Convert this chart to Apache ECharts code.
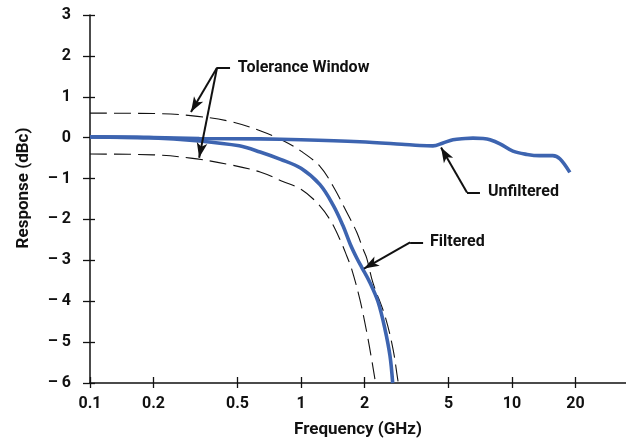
<!DOCTYPE html>
<html>
<head>
<meta charset="utf-8">
<script src="https://cdn.jsdelivr.net/npm/echarts@6/dist/echarts.min.js"></script>
<style>
html,body{margin:0;padding:0;background:#fff;}
#c{width:626px;height:442px;}
</style>
</head>
<body>
<div id="c"></div>
<script>
// ---- data (frequency in GHz, response in dBc) ----
const xTicks = [0.1, 0.2, 0.5, 1, 2, 5, 10, 20];
const xTickLabels = ['0.1', '0.2', '0.5', '1', '2', '5', '10', '20'];
const yTicks = [3, 2, 1, 0, -1, -2, -3, -4, -5, -6];

const unfiltered = [
  [0.1, 0.02], [0.2, 0.0], [0.33, -0.02], [0.64, -0.03], [1.0, -0.05],
  [1.9, -0.1], [3.0, -0.16], [3.66, -0.19], [4.22, -0.2], [4.71, -0.13],
  [5.25, -0.05], [6.0, -0.02], [6.53, -0.01], [7.3, -0.02], [7.87, -0.05],
  [8.77, -0.15], [10.1, -0.33], [11.8, -0.41], [13.5, -0.44], [15.6, -0.44],
  [16.9, -0.52], [18.8, -0.85]
];
const filtered = [
  [0.1, 0.02], [0.19, 0.0], [0.33, -0.08], [0.51, -0.2], [0.64, -0.35],
  [0.8, -0.53], [1.0, -0.75], [1.23, -1.15], [1.42, -1.65], [1.58, -2.15],
  [1.71, -2.6], [1.84, -2.95], [1.94, -3.17], [2.12, -3.54], [2.32, -4.02],
  [2.5, -4.68], [2.64, -5.33], [2.72, -6.0]
];
const toleranceUpper = [
  [0.1, 0.6], [0.2, 0.59], [0.3, 0.54], [0.46, 0.4], [0.64, 0.17],
  [0.82, -0.07], [1.0, -0.33], [1.23, -0.7], [1.42, -1.19], [1.65, -1.83],
  [1.84, -2.32], [1.97, -2.73], [2.05, -2.95], [2.19, -3.54], [2.5, -4.36],
  [2.73, -5.17], [2.88, -5.94], [2.9, -6.0]
];
const toleranceLower = [
  [0.1, -0.4], [0.2, -0.42], [0.3, -0.5], [0.46, -0.66], [0.64, -0.84],
  [0.82, -1.07], [1.0, -1.26], [1.19, -1.59], [1.37, -2.0], [1.53, -2.49],
  [1.65, -2.9], [1.74, -3.22], [1.9, -3.95], [2.05, -4.76], [2.16, -5.41],
  [2.24, -5.9], [2.26, -6.0]
];

// annotation anchors (data coordinates)
const tolVertex = [0.4, 1.71], tolStub = [0.461, 1.71];
const tolArrowA = [0.301, 0.63], tolArrowB = [0.329, -0.49];
const tolText = [0.502, 1.71];
const unfVertex = [6.12, -1.34], unfStub = [7.05, -1.34], unfArrow = [4.61, -0.24], unfText = [7.7, -1.34];
const filVertex = [3.29, -2.56], filStub = [3.79, -2.56], filArrow = [1.99, -3.2], filText = [4.09, -2.56];

const FONT = "Roboto, 'DejaVu Sans Condensed', sans-serif";
const BLUE = '#3d64b0';

const chart = echarts.init(document.getElementById('c'), null, {renderer: 'canvas'});

function yFmt(v) { return v < 0 ? '\u2013 ' + (-v) : String(v); }
function xFmt(v) {
  for (let i = 0; i < xTicks.length; i++) {
    if (Math.abs(v - xTicks[i]) < 1e-6 * xTicks[i]) return xTickLabels[i];
  }
  return '';
}

const labelStyle = {color: '#111', fontFamily: FONT, fontWeight: 'bold', fontSize: 16};

const xBase = {
  type: 'log', logBase: 10, min: 0.1, max: 34.7,
  splitLine: {show: false}, minorTick: {show: false}, minorSplitLine: {show: false}
};
const yBase = {
  type: 'value', min: -6, max: 3, interval: 1,
  splitLine: {show: false}
};

const option = {
  animation: false,
  backgroundColor: '#fff',
  grid: {left: 90, right: 0, top: 15, bottom: 59, containLabel: false, outerBoundsMode: 'none'},
  xAxis: [
    Object.assign({}, xBase, {
      position: 'bottom',
      axisLine: {onZero: false, lineStyle: {color: '#111', width: 1.5}},
      axisTick: {show: true, inside: false, length: 5, customValues: xTicks, lineStyle: {color: '#111', width: 1.3}},
      axisLabel: Object.assign({customValues: xTicks, formatter: xFmt, margin: 13}, labelStyle),
      name: 'Frequency (GHz)', nameLocation: 'middle', nameGap: 38,
      nameTextStyle: Object.assign({}, labelStyle, {fontSize: 17})
    }),
    Object.assign({}, xBase, {
      position: 'bottom',
      axisLine: {show: false, onZero: false},
      axisTick: {show: true, inside: true, length: 6, customValues: xTicks, lineStyle: {color: '#111', width: 1.3}},
      axisLabel: {show: false}
    })
  ],
  yAxis: [
    Object.assign({}, yBase, {
      position: 'left',
      axisLine: {show: true, onZero: false, lineStyle: {color: '#111', width: 1.5}},
      axisTick: {show: true, inside: false, length: 7, lineStyle: {color: '#111', width: 1.3}},
      axisLabel: Object.assign({formatter: yFmt, margin: 19}, labelStyle),
      name: 'Response (dBc)', nameLocation: 'middle', nameGap: 58,
      nameTextStyle: Object.assign({}, labelStyle, {fontSize: 17, padding: [0, 0, 0, 22]})
    }),
    Object.assign({}, yBase, {
      position: 'left',
      axisLine: {show: false, onZero: false},
      axisTick: {show: true, inside: true, length: 5, lineStyle: {color: '#111', width: 1.3}},
      axisLabel: {show: false}
    })
  ],
  series: [
    {
      name: 'Tolerance upper', type: 'line', data: toleranceUpper, smooth: 0.35,
      showSymbol: false, silent: true, clip: true,
      lineStyle: {color: '#111', width: 1.1, type: [17, 7]}
    },
    {
      name: 'Tolerance lower', type: 'line', data: toleranceLower, smooth: 0.35,
      showSymbol: false, silent: true, clip: true,
      lineStyle: {color: '#111', width: 1.1, type: [17, 7]}
    },
    {
      name: 'Unfiltered', type: 'line', data: unfiltered, smooth: 0.35,
      showSymbol: false, silent: true, clip: true,
      lineStyle: {color: BLUE, width: 3.6}
    },
    {
      name: 'Filtered', type: 'line', data: filtered, smooth: 0.35,
      showSymbol: false, silent: true, clip: true,
      lineStyle: {color: BLUE, width: 3.6}
    },
    {
      name: 'annotations', type: 'line', data: [], silent: true,
      markLine: {
        silent: true, animation: false,
        symbol: ['none', 'arrow'], symbolSize: [8, 15],
        label: {show: false},
        lineStyle: {color: '#111', width: 2, type: 'solid'},
        emphasis: {disabled: true},
        data: [
          [{coord: tolVertex, symbol: 'none'}, {coord: tolStub, symbol: 'none'}],
          [{coord: tolVertex}, {coord: tolArrowA}],
          [{coord: tolVertex}, {coord: tolArrowB}],
          [{coord: unfStub, symbol: 'none'}, {coord: unfVertex, symbol: 'none'}],
          [{coord: unfVertex}, {coord: unfArrow}],
          [{coord: filStub, symbol: 'none'}, {coord: filVertex, symbol: 'none'}],
          [{coord: filVertex}, {coord: filArrow}]
        ]
      },
      markPoint: {
        silent: true, animation: false,
        symbol: 'circle', symbolSize: 0,
        label: {show: true, position: 'right', distance: 0, fontSize: 16, color: '#111', fontFamily: FONT, fontWeight: 'bold'},
        data: [
          {coord: tolText, value: 'Tolerance Window', label: {formatter: 'Tolerance Window'}},
          {coord: unfText, value: 'Unfiltered', label: {formatter: 'Unfiltered'}},
          {coord: filText, value: 'Filtered', label: {formatter: 'Filtered'}}
        ]
      }
    }
  ]
};
chart.setOption(option);
</script>
</body>
</html>
